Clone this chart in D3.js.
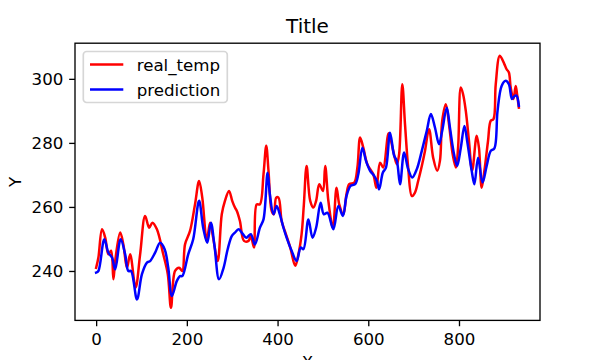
<!DOCTYPE html>
<html>
<head>
<meta charset="utf-8">
<script src="https://cdn.jsdelivr.net/npm/d3@7"></script>
<style>
  html, body { margin: 0; padding: 0; background: #fff; }
  svg { display: block; font-family: "DejaVu Sans", sans-serif; }
</style>
</head>
<body>
<svg id="chart" width="600" height="360"></svg>
<script>
// ---- Data ----
const seriesNames = ["real_temp", "prediction"];
const xTicks = [0, 200, 400, 600, 800];
const yTicks = [240, 260, 280, 300];

const realTemp = [[0,241.0],[5,244.2],[13,253.0],[20,250.4],[27,245.2],[33,246.3],[38,237.4],[42,243.1],[53,252.0],[60,248.3],[68,241.0],[75,245.2],[87,234.8],[97,245.2],[108,257.2],[117,253.5],[124,255.1],[134,253.0],[148,245.2],[158,239.0],[165,228.5],[174,240.0],[183,241.0],[190,240.0],[196,248.3],[207,252.5],[218,260.8],[227,268.1],[234,262.9],[244,249.4],[251,255.1],[258,250.4],[268,243.1],[277,257.7],[284,261.9],[293,265.0],[300,261.9],[306,259.8],[310,258.8],[317,255.6],[326,249.4],[336,249.4],[341,250.9],[348,247.3],[354,260.8],[361,260.8],[369,270.2],[375,279.1],[380,271.3],[387,258.8],[392,257.7],[397,262.9],[402,262.9],[409,255.6],[416,252.5],[428,247.3],[439,241.6],[446,245.2],[453,251.5],[458,260.8],[464,272.8],[472,261.9],[479,259.8],[485,261.9],[492,267.1],[500,265.0],[505,272.8],[512,261.9],[522,253.5],[530,266.0],[536,260.8],[545,257.7],[552,264.0],[558,267.1],[569,267.6],[576,272.3],[582,281.7],[589,278.5],[598,273.3],[611,270.2],[618,266.0],[626,273.8],[633,272.3],[645,283.0],[655,277.5],[663,273.3],[668,276.5],[675,298.3],[681,285.8],[688,272.3],[696,263.4],[703,264.5],[710,268.1],[718,272.8],[725,277.5],[734,284.3],[743,275.4],[752,271.3],[758,274.4],[763,286.9],[771,292.1],[778,285.8],[786,276.5],[793,272.3],[798,278.5],[804,297.3],[809,295.2],[815,290.0],[822,280.6],[829,271.3],[839,282.2],[844,278.5],[850,266.0],[856,271.3],[864,280.6],[870,286.9],[876,287.4],[881,298.3],[890,307.2],[900,304.6],[905,303.0],[910,302.0],[914,297.3],[920,293.7],[925,297.8],[928,295.2],[932,291.0]];

const prediction = [[0,239.5],[5,240.0],[18,249.9],[27,245.7],[35,244.2],[42,240.5],[54,249.9],[64,245.2],[71,240.0],[77,240.0],[90,231.1],[101,239.0],[112,242.6],[119,243.1],[130,245.7],[141,248.8],[151,246.8],[159,241.0],[167,232.2],[178,236.9],[185,238.4],[190,238.4],[203,245.2],[214,249.9],[227,261.9],[236,253.5],[245,248.8],[253,255.1],[261,247.8],[271,237.4],[281,241.0],[290,246.8],[299,250.9],[306,252.0],[314,253.0],[321,252.0],[331,250.4],[341,251.5],[350,248.3],[361,253.5],[369,256.1],[378,270.7],[383,264.0],[391,257.7],[398,260.3],[405,257.7],[413,253.5],[420,250.4],[431,246.3],[442,243.1],[451,247.3],[457,246.8],[468,256.1],[477,250.4],[485,253.5],[495,261.3],[502,257.7],[510,258.2],[523,253.0],[534,260.3],[544,257.2],[552,263.4],[561,266.6],[571,267.1],[578,270.2],[587,278.5],[595,274.4],[604,271.3],[613,269.7],[619,268.1],[624,265.5],[632,270.7],[639,272.3],[648,283.2],[657,276.0],[663,274.4],[670,267.1],[679,277.0],[688,271.8],[697,269.2],[707,271.8],[718,277.5],[729,283.8],[738,289.0],[747,284.8],[756,279.6],[763,283.8],[773,291.0],[780,284.8],[789,276.5],[796,272.8],[804,278.5],[812,285.3],[818,280.6],[828,271.3],[834,267.1],[842,275.4],[852,267.6],[861,272.8],[870,277.5],[878,278.3],[885,290.0],[894,297.8],[903,299.4],[910,298.3],[917,293.7],[923,294.7],[927,294.7],[932,291.6]];

// ---- Layout (matplotlib defaults at 120 dpi) ----
const W = 600, H = 360;
const L = 75, R = 540, T = 43.2, B = 320.4;
const colors = ["#ff0000", "#0000ff"];
const series = [realTemp, prediction];

const allX = series.flat().map(d => d[0]);
const allY = series.flat().map(d => d[1]);
const [x0, x1] = d3.extent(allX);
const [y0, y1] = d3.extent(allY);
const xm = (x1 - x0) * 0.05, ym = (y1 - y0) * 0.05;

const x = d3.scaleLinear().domain([x0 - xm, x1 + xm]).range([L, R]);
const y = d3.scaleLinear().domain([y0 - ym, y1 + ym]).range([B, T]);

const svg = d3.select("#chart");
svg.append("rect").attr("width", W).attr("height", H).attr("fill", "#fff");

// Lines
const line = d3.line().x(d => x(d[0])).y(d => y(d[1])).curve(d3.curveCatmullRom.alpha(0.5));
series.forEach((s, i) => {
  svg.append("path").datum(s)
    .attr("d", line)
    .attr("fill", "none")
    .attr("stroke", colors[i])
    .attr("stroke-width", 2.5)
    .attr("stroke-linejoin", "round")
    .attr("stroke-linecap", "square");
});

// Axes
const fs = 16.67;
const xAxis = d3.axisBottom(x).tickValues(xTicks).tickSizeInner(5.83).tickSizeOuter(0).tickPadding(5.83);
const yAxis = d3.axisLeft(y).tickValues(yTicks).tickSizeInner(5.83).tickSizeOuter(0).tickPadding(5.83);

const gx = svg.append("g").attr("transform", `translate(0,${B})`).call(xAxis);
const gy = svg.append("g").attr("transform", `translate(${L},0)`).call(yAxis);
[gx, gy].forEach(g => {
  g.select(".domain").remove();
  g.selectAll(".tick line").attr("stroke", "#000").attr("stroke-width", 1.33);
  g.selectAll(".tick text").attr("fill", "#000").attr("font-size", fs)
    .attr("font-family", "DejaVu Sans");
});
gx.selectAll(".tick text").attr("dy", null).attr("y", 24.4);
gy.selectAll(".tick text").attr("dy", null).attr("y", 6);

// Spines
svg.append("rect").attr("x", L).attr("y", T).attr("width", R - L).attr("height", B - T)
  .attr("fill", "none").attr("stroke", "#000").attr("stroke-width", 1.33);

// Title & labels
svg.append("text").attr("x", (L + R) / 2).attr("y", 33.2).attr("text-anchor", "middle")
  .attr("font-size", 20).text("Title");
svg.append("text").attr("x", (L + R) / 2).attr("y", 367.5).attr("text-anchor", "middle")
  .attr("font-size", fs).text("X");
svg.append("text").attr("transform", `translate(20.8,${(T + B) / 2}) rotate(-90)`)
  .attr("text-anchor", "middle").attr("font-size", fs).text("Y");

// Legend
const lg = svg.append("g");
lg.append("rect").attr("x", 83.3).attr("y", 51.5).attr("width", 144).attr("height", 51)
  .attr("rx", 3.3).attr("ry", 3.3)
  .attr("fill", "#fff").attr("fill-opacity", 0.8)
  .attr("stroke", "#d6d6d6").attr("stroke-width", 1.67);
seriesNames.forEach((name, i) => {
  const ly = 64.5 + i * 25;
  lg.append("line").attr("x1", 90).attr("x2", 123.3).attr("y1", ly).attr("y2", ly)
    .attr("stroke", colors[i]).attr("stroke-width", 2.5);
  lg.append("text").attr("x", 136.7).attr("y", ly + 6).attr("font-size", fs).text(name);
});
</script>
</body>
</html>
